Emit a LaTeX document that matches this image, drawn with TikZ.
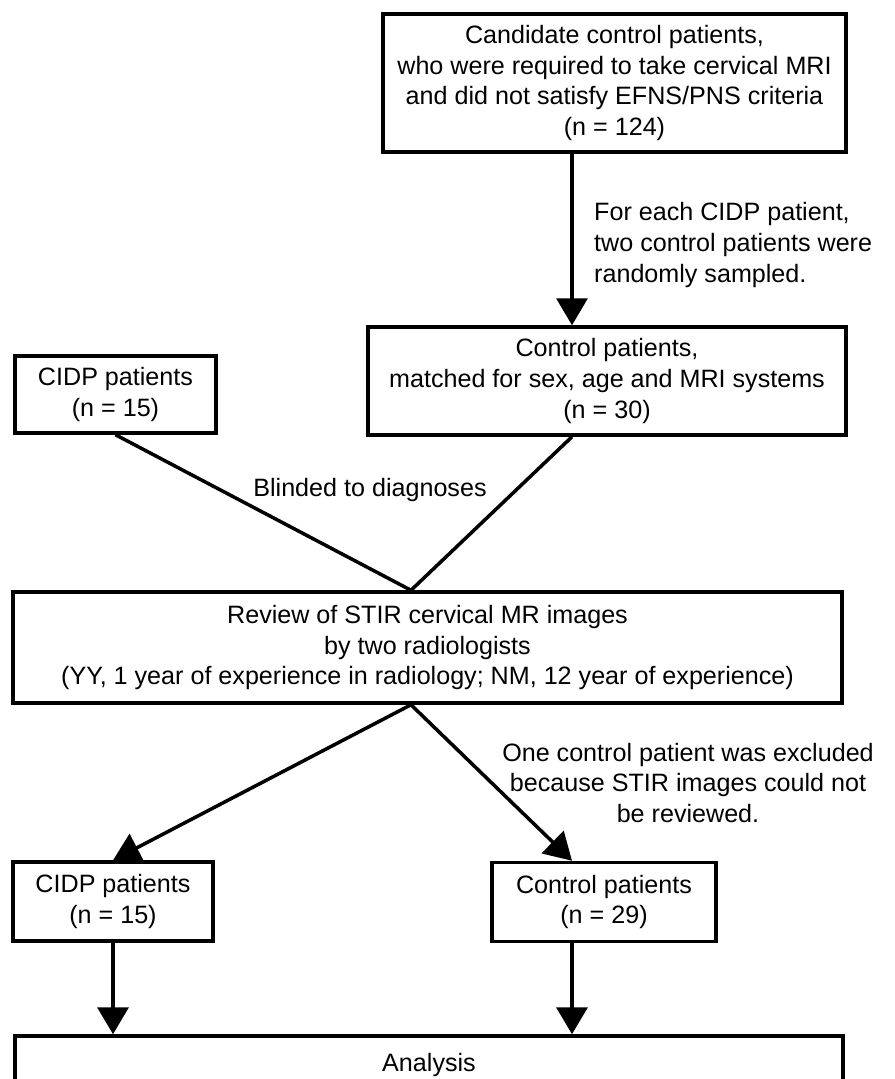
\documentclass[tikz,border=0pt]{standalone}
\usepackage{fontspec}
\setmainfont{Liberation Sans}
\usetikzlibrary{arrows.meta}

\begin{document}
\begin{tikzpicture}[x=0.02cm,y=-0.02cm,
	box/.style={draw,line width=2pt,align=center,inner sep=0pt},
	arr/.style={line width=2pt,-{Triangle[length=0.54cm,width=0.62cm]}},
	every node/.style={font=\fontsize{14.3}{17.6}\selectfont}]
			% Frame
			\clip (0,0) rectangle (894,1079);
			
			% Boxes
			\node[box,minimum width=9.26cm,minimum height=2.76cm] (cand) at (614.5,83)
				{Candidate control patients,\\who were required to take cervical MRI\\and did not satisfy EFNS/PNS criteria\\(n = 124)};
			\node[box,minimum width=9.56cm,minimum height=2.16cm] (ctrl) at (607,381)
				{Control patients,\\matched for sex, age and MRI systems\\(n = 30)};
			\node[box,minimum width=4.02cm,minimum height=1.54cm] (cidp) at (115.5,394.5)
				{CIDP patients\\(n = 15)};
			\node[box,minimum width=16.58cm,minimum height=2.22cm] (review) at (427.5,647.5)
				{Review of STIR cervical MR images\\by two radiologists\\(YY, 1 year of experience in radiology; NM, 12 year of experience)};
			\node[box,minimum width=4.0cm,minimum height=1.58cm] (cidpb) at (113,901.5)
				{CIDP patients\\(n = 15)};
			\node[box,minimum width=4.48cm,minimum height=1.58cm] (ctrlb) at (604,902)
				{Control patients\\(n = 29)};
			\node[box,minimum width=16.56cm,minimum height=1.16cm] (anal) at (429,1065)
				{Analysis};
			
			% Helper points
			\coordinate (split) at (572,0);
			\coordinate (merge) at (411,0);
			
			% Arrows
			\draw[arr] (cand.south -| split) -- (ctrl.north -| split);
			\draw[line width=2pt] (cidp.south) -- (review.north -| merge);
			\draw[line width=2pt] (ctrl.south -| split) -- (review.north -| merge);
			\draw[arr] (review.south -| merge) -- (cidpb.north);
			\draw[arr] (review.south -| merge) -- (ctrlb.north -| split);
			\draw[arr] (cidpb.south) -- (anal.north -| cidpb.south);
			\draw[arr] (ctrlb.south -| split) -- (anal.north -| split);
			
			% Labels
			\node[anchor=west,align=left] (sampled) at (588,245)
				{For each CIDP patient,\\two control patients were\\randomly sampled.};
			\node (blinded) at (370,490) {Blinded to diagnoses};
			\node[align=center] (excluded) at (688,783)
				{One control patient was excluded\\because STIR images could not\\be reviewed.};
			
		\end{tikzpicture}
\end{document}
